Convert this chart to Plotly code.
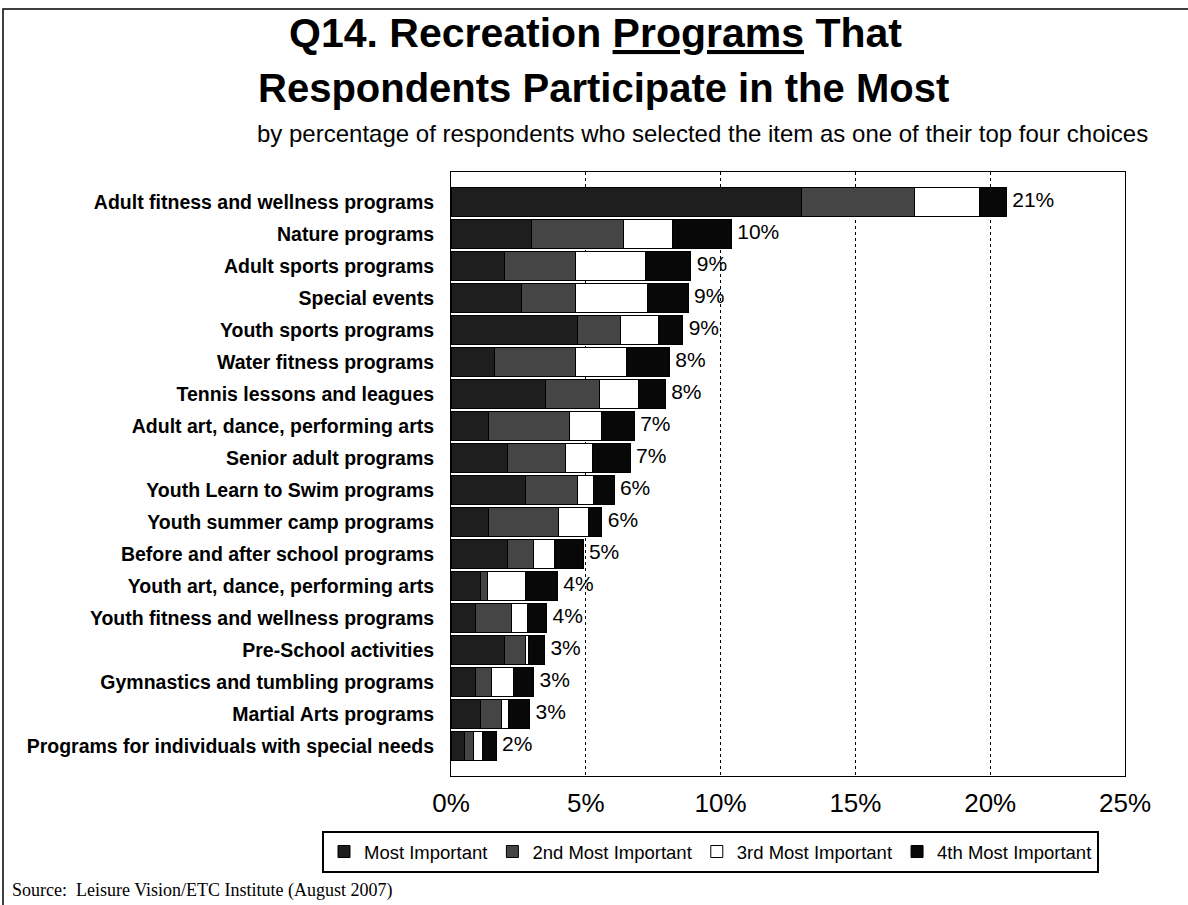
import plotly.graph_objects as go

categories = [
    "Adult fitness and wellness programs",
    "Nature programs",
    "Adult sports programs",
    "Special events",
    "Youth sports programs",
    "Water fitness programs",
    "Tennis lessons and leagues",
    "Adult art, dance, performing arts",
    "Senior adult programs",
    "Youth Learn to Swim programs",
    "Youth summer camp programs",
    "Before and after school programs",
    "Youth art, dance, performing arts",
    "Youth fitness and wellness programs",
    "Pre-School activities",
    "Gymnastics and tumbling programs",
    "Martial Arts programs",
    "Programs for individuals with special needs",
]
most_important = [13.0, 3.0, 2.0, 2.6, 4.7, 1.6, 3.5, 1.4, 2.1, 2.75, 1.4, 2.1, 1.1, 0.9, 2.0, 0.9, 1.1, 0.5]
second_most = [4.2, 3.4, 2.6, 2.0, 1.6, 3.0, 2.0, 3.0, 2.15, 1.95, 2.6, 0.95, 0.25, 1.35, 0.75, 0.6, 0.77, 0.35]
third_most = [2.4, 1.8, 2.6, 2.7, 1.4, 1.9, 1.45, 1.2, 1.0, 0.6, 1.1, 0.8, 1.4, 0.6, 0.12, 0.8, 0.25, 0.33]
fourth_most = [1.0, 2.2, 1.7, 1.5, 0.9, 1.6, 1.0, 1.2, 1.4, 0.75, 0.5, 1.05, 1.2, 0.7, 0.6, 0.77, 0.8, 0.5]
total_labels = ["21%", "10%", "9%", "9%", "9%", "8%", "8%", "7%", "7%", "6%", "6%", "5%", "4%", "4%", "3%", "3%", "3%", "2%"]
x_ticks = [0, 5, 10, 15, 20, 25]
x_tick_labels = ["0%", "5%", "10%", "15%", "20%", "25%"]

series = [
    ("Most Important", most_important, "#1e1e1e"),
    ("2nd Most Important", second_most, "#454545"),
    ("3rd Most Important", third_most, "#ffffff"),
    ("4th Most Important", fourth_most, "#080808"),
]

SANS = "Liberation Sans, Arial, sans-serif"

fig = go.Figure()
for name, vals, color in series:
    fig.add_trace(go.Bar(
        y=categories, x=vals, name=name, orientation="h",
        marker=dict(color=color, line=dict(color="#000000", width=1)),
        hoverinfo="x+name",
    ))

totals = [a + b + c + d for a, b, c, d in zip(most_important, second_most, third_most, fourth_most)]
fig.add_trace(go.Scatter(
    y=categories, x=totals, mode="text", text=["\u00a0" + t for t in total_labels],
    textposition="middle right", showlegend=False,
    textfont=dict(family=SANS, size=21, color="#000000"),
    hoverinfo="skip",
))

# plot area in page pixels: x 451..1125, y 172..776
L, R, T, B = 451, 1125, 172, 776
W, H = R - L, B - T


def px(x):
    return (x - L) / W


def py(y):
    return (B - y) / H


fig.update_layout(
    barmode="stack",
    bargap=0.1,
    width=1188, height=905,
    paper_bgcolor="#ffffff", plot_bgcolor="#ffffff",
    margin=dict(l=L, r=1188 - R, t=T, b=905 - B, autoexpand=False),
    font=dict(family=SANS, color="#000000"),
    xaxis=dict(
        range=[0, 25], tickvals=x_ticks, ticktext=x_tick_labels,
        showgrid=True, gridcolor="#000000", griddash="dot", gridwidth=1,
        showline=True, linecolor="#000000", linewidth=1, mirror=True,
        ticks="", zeroline=False, ticklabelstandoff=4,
        tickfont=dict(family=SANS, size=26, color="#000000"),
        fixedrange=True,
    ),
    yaxis=dict(
        autorange="reversed", showline=True, linecolor="#000000", linewidth=1, mirror=True,
        ticks="", ticklabelstandoff=12,
        tickfont=dict(family=SANS, size=19.5, color="#000000", weight="bold"),
        fixedrange=True,
    ),
    legend=dict(
        orientation="h", traceorder="normal",
        x=px(322), xanchor="left", y=py(831), yanchor="top",
        bordercolor="#000000", borderwidth=2, bgcolor="#ffffff",
        font=dict(family=SANS, size=18.5, color="#000000"),
        itemwidth=30, tracegroupgap=0,
    ),
    showlegend=True,
)

fig.add_annotation(
    text="<b>Q14. Recreation <u>Programs</u> That</b>",
    xref="paper", yref="paper", x=px(595), y=py(33),
    xanchor="center", yanchor="middle", showarrow=False,
    font=dict(family=SANS, size=41, color="#000000"),
)
fig.add_annotation(
    text="<b>Respondents Participate in the Most</b>",
    xref="paper", yref="paper", x=px(603), y=py(88),
    xanchor="center", yanchor="middle", showarrow=False,
    font=dict(family=SANS, size=40, color="#000000"),
)
fig.add_annotation(
    text="by percentage of respondents who selected the item as one of their top four choices",
    xref="paper", yref="paper", x=px(702), y=py(133),
    xanchor="center", yanchor="middle", showarrow=False,
    font=dict(family=SANS, size=24, color="#000000"),
)
fig.add_annotation(
    text="Source:  Leisure Vision/ETC Institute (August 2007)",
    xref="paper", yref="paper", x=px(10), y=py(890),
    xanchor="left", yanchor="middle", showarrow=False,
    font=dict(family="Liberation Serif, Times New Roman, serif", size=18, color="#000000"),
)
# outer frame
fig.add_shape(
    type="rect", xref="paper", yref="paper",
    x0=px(3), x1=px(1200),
    y0=py(920), y1=py(9),
    line=dict(color="#000000", width=1.5), layer="below",
)

fig.write_html("out.html", config={"displayModeBar": False},
               post_script="document.body.style.margin='0';")
